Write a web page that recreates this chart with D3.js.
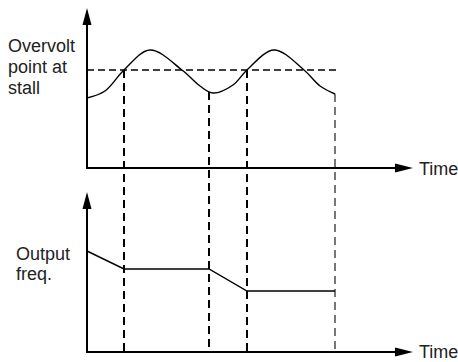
<!DOCTYPE html>
<meta charset="utf-8">
<head>
<style>
body { margin: 0; background: #fff; }
svg { display: block; }
text { font-family: "Liberation Sans", Arial, sans-serif; font-size: 18px; fill: #222; }
</style>
</head>
<body>
<script src="https://d3js.org/d3.v7.min.js"></script>
<div id="chart"></div>
<script>

// time in arbitrary units along both horizontal axes
var voltTime   = [0, 18, 37, 63, 95, 113, 126, 146, 160, 187, 217, 233, 248];
var voltValue  = [70, 77, 98, 118, 98, 82, 75, 83, 98, 118, 98, 82, 74];
var stallLevel = 98;
var stallEnd   = 251;

var freqTime   = [0, 37, 122, 160, 248];
var freqValue  = [101, 83, 83, 61, 61];

var eventTime  = [37, 122, 160, 248];
var eventVolt  = [98, 76, 98, 74];

var topLabel    = ["Overvolt", "point at", "stall"];
var bottomLabel = ["Output", "freq."];
var axisLabel   = "Time";

var width = 458, height = 362;

var x = d3.scaleLinear().domain([0, 326]).range([87, 413]);
var yTop = d3.scaleLinear().domain([0, 160]).range([168, 8]);
var yBot = d3.scaleLinear().domain([0, 160]).range([352, 192]);

var svg = d3.select('#chart').append('svg')
    .attr('width', width)
    .attr('height', height);

var line = d3.line();

function axes(y) {
  var x0 = x(0), y0 = y(0), yt = y(160), xt = x(326);
  svg.append('line').attr('x1', x0).attr('y1', y0).attr('x2', x0).attr('y2', yt + 14)
    .attr('stroke', '#000').attr('stroke-width', 2);
  svg.append('path').attr('d', 'M' + x0 + ',' + yt + 'L' + (x0 + 4.5) + ',' + (yt + 17) + 'L' + (x0 - 4.5) + ',' + (yt + 17) + 'Z')
    .attr('fill', '#000');
  svg.append('line').attr('x1', x0 - 1).attr('y1', y0).attr('x2', xt - 14).attr('y2', y0)
    .attr('stroke', '#000').attr('stroke-width', 2);
  svg.append('path').attr('d', 'M' + xt + ',' + y0 + 'L' + (xt - 18) + ',' + (y0 - 4.5) + 'L' + (xt - 18) + ',' + (y0 + 4.5) + 'Z')
    .attr('fill', '#000');
}

axes(yTop);
axes(yBot);

// vertical event markers
eventTime.forEach(function(t, i) {
  var last = i === eventTime.length - 1;
  svg.append('line')
    .attr('x1', x(t)).attr('x2', x(t))
    .attr('y1', yTop(eventVolt[i])).attr('y2', yBot(0))
    .attr('stroke', last ? '#555' : '#000')
    .attr('stroke-width', last ? 1.6 : 2)
    .attr('stroke-dasharray', '8,5');
});

// stall threshold
svg.append('line')
  .attr('x1', x(0)).attr('x2', x(stallEnd))
  .attr('y1', yTop(stallLevel)).attr('y2', yTop(stallLevel))
  .attr('stroke', '#000').attr('stroke-width', 1.3)
  .attr('stroke-dasharray', '7,4');

// voltage curve
svg.append('path')
  .attr('d', d3.line().curve(d3.curveCatmullRom)(voltTime.map(function(t, i) { return [x(t), yTop(voltValue[i])]; })))
  .attr('fill', 'none').attr('stroke', '#000').attr('stroke-width', 1.4);

// output frequency
svg.append('path')
  .attr('d', line(freqTime.map(function(t, i) { return [x(t), yBot(freqValue[i])]; })))
  .attr('fill', 'none').attr('stroke', '#000').attr('stroke-width', 1.4);

svg.append('text').attr('x', 8).attr('y', 52)
  .selectAll('tspan').data(topLabel).enter().append('tspan')
  .attr('x', 8).attr('dy', function(d, i) { return i ? 21 : 0; })
  .text(function(d) { return d; });

svg.append('text').attr('x', 16).attr('y', 260)
  .selectAll('tspan').data(bottomLabel).enter().append('tspan')
  .attr('x', 16).attr('dy', function(d, i) { return i ? 20 : 0; })
  .text(function(d) { return d; });

svg.append('text').attr('x', 419).attr('y', 175).text(axisLabel);
svg.append('text').attr('x', 419).attr('y', 358).text(axisLabel);

</script>
</body>
